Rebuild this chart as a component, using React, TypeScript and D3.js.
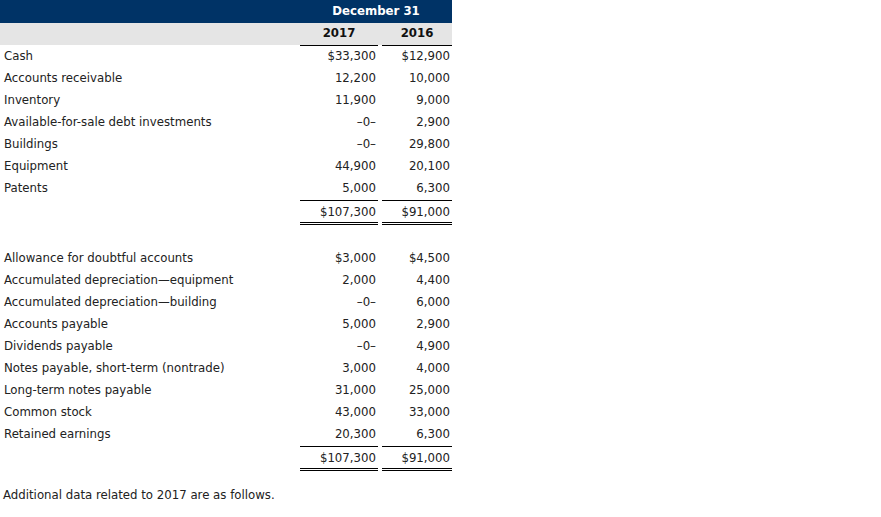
import React from "react";
import * as d3 from "d3";

const headerTitle = "December 31";
const years = ["2017", "2016"];

const assetLabels = [
  "Cash",
  "Accounts receivable",
  "Inventory",
  "Available-for-sale debt investments",
  "Buildings",
  "Equipment",
  "Patents",
];
const assets2017 = ["$33,300", "12,200", "11,900", "\u20130\u2013", "\u20130\u2013", "44,900", "5,000"];
const assets2016 = ["$12,900", "10,000", "9,000", "2,900", "29,800", "20,100", "6,300"];
const assetTotals = ["$107,300", "$91,000"];

const claimLabels = [
  "Allowance for doubtful accounts",
  "Accumulated depreciation\u2014equipment",
  "Accumulated depreciation\u2014building",
  "Accounts payable",
  "Dividends payable",
  "Notes payable, short-term (nontrade)",
  "Long-term notes payable",
  "Common stock",
  "Retained earnings",
];
const claims2017 = ["$3,000", "2,000", "\u20130\u2013", "5,000", "\u20130\u2013", "3,000", "31,000", "43,000", "20,300"];
const claims2016 = ["$4,500", "4,400", "6,000", "2,900", "4,900", "4,000", "25,000", "33,000", "6,300"];
const claimTotals = ["$107,300", "$91,000"];

const footnote = "Additional data related to 2017 are as follows.";

const W = 881;
const H = 517;
const FONT = "DejaVu Sans, Verdana, sans-serif";
const FS = 11.75;
const TEXT = "#222";

// column layout
const tableRight = 452;
const colX = d3.scaleOrdinal<string, [number, number]>()
  .domain(years)
  .range([[300, 378], [382, 452]]);

type Section = { labels: string[]; a: string[]; b: string[]; totals: string[]; top: number };

export default function App() {
  const sections: Section[] = [
    { labels: assetLabels, a: assets2017, b: assets2016, totals: assetTotals, top: 56 },
    { labels: claimLabels, a: claims2017, b: claims2016, totals: claimTotals, top: 258 },
  ];

  const rowY = (s: Section) =>
    d3.scaleLinear().domain([0, 1]).range([s.top, s.top + 22]);

  const rule = (x1: number, x2: number, y: number, key: string) => (
    <line key={key} x1={x1} x2={x2} y1={y} y2={y} stroke="#000" strokeWidth={1} shapeRendering="crispEdges" />
  );

  return (
    <svg
      width={W}
      height={H}
      style={{ position: "absolute", left: 0, top: 0, background: "#fff" }}
      fontFamily={FONT}
      fontSize={FS}
    >
      {/* header */}
      <rect x={0} y={0} width={tableRight} height={23} fill="#003366" />
      <rect x={0} y={23} width={tableRight} height={22} fill="#e5e5e5" />
      <text
        x={(colX("2017")[0] + colX("2016")[1]) / 2}
        y={10.5}
        dy="0.35em"
        textAnchor="middle"
        fill="#fff"
        fontWeight="bold"
      >
        {headerTitle}
      </text>
      {years.map((yr) => {
        const [x1, x2] = colX(yr);
        return (
          <g key={yr}>
            <text x={(x1 + x2) / 2} y={32.5} dy="0.35em" textAnchor="middle" fill="#111" fontWeight="bold">
              {yr}
            </text>
            {rule(x1, x2, 45.5, "u" + yr)}
          </g>
        );
      })}

      {sections.map((s, si) => {
        const y = rowY(s);
        const n = s.labels.length;
        const lastY = y(n - 1) - 1;
        const singleY = lastY + 13.5;
        const totalY = lastY + 25;
        const dblY = lastY + 35.5;
        return (
          <g key={si}>
            {s.labels.map((lab, i) => (
              <g key={lab}>
                <text x={4} y={y(i)} dy="0.35em" fill={TEXT}>
                  {lab}
                </text>
                <text x={colX("2017")[1] - 2} y={y(i)} dy="0.35em" textAnchor="end" fill={TEXT}>
                  {s.a[i]}
                </text>
                <text x={colX("2016")[1] - 2} y={y(i)} dy="0.35em" textAnchor="end" fill={TEXT}>
                  {s.b[i]}
                </text>
              </g>
            ))}
            {years.map((yr, k) => {
              const [x1, x2] = colX(yr);
              return (
                <g key={yr}>
                  {rule(x1, x2, singleY, "s" + yr)}
                  <text x={x2 - 2} y={totalY} dy="0.35em" textAnchor="end" fill={TEXT}>
                    {s.totals[k]}
                  </text>
                  {rule(x1, x2, dblY, "d1" + yr)}
                  {rule(x1, x2, dblY + 2, "d2" + yr)}
                </g>
              );
            })}
          </g>
        );
      })}

      <text x={3} y={495} dy="0.35em" fill={TEXT}>
        {footnote}
      </text>
    </svg>
  );
}
